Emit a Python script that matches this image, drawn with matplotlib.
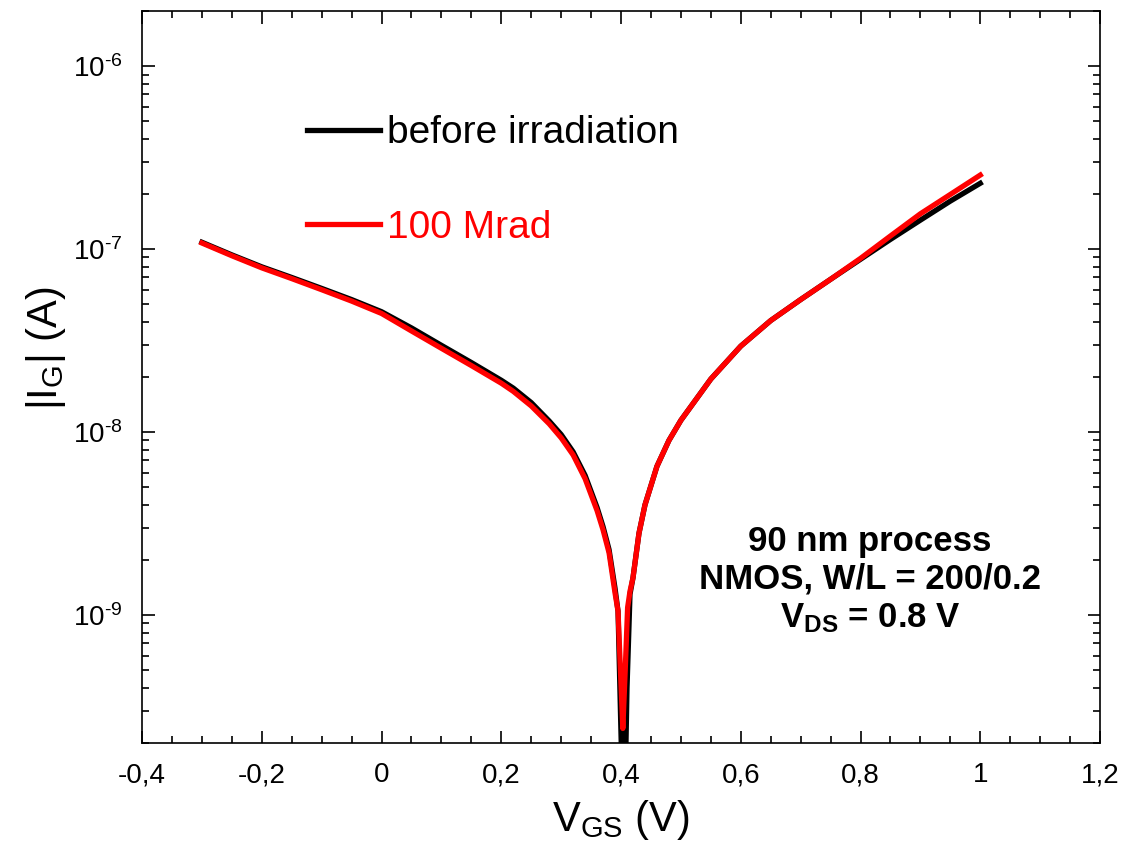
import math
import matplotlib
matplotlib.use("Agg")
import matplotlib.pyplot as plt
from matplotlib.ticker import FixedLocator, MultipleLocator, LogLocator, FuncFormatter, NullFormatter

plt.rcParams['font.family'] = ['Liberation Sans', 'DejaVu Sans']
plt.rcParams['mathtext.fontset'] = 'custom'
plt.rcParams['mathtext.rm'] = 'Liberation Sans'
plt.rcParams['mathtext.it'] = 'Liberation Sans'
plt.rcParams['mathtext.bf'] = 'Liberation Sans:bold'

# gate current |IG| vs VGS
v_before = [-0.3, -0.25, -0.2, -0.15, -0.1, -0.05, 0.0, 0.05, 0.1, 0.15, 0.2,
            0.22, 0.25, 0.28, 0.3, 0.32, 0.34, 0.36, 0.37, 0.38, 0.39, 0.395,
            0.399, 0.402, 0.404, 0.407, 0.41, 0.415, 0.42, 0.43, 0.44, 0.46,
            0.48, 0.5, 0.55, 0.6, 0.65, 0.7, 0.75, 0.8, 0.85, 0.9, 0.95, 1.0]
i_before = [1.09e-7, 9.3e-8, 8.0e-8, 7.0e-8, 6.1e-8, 5.3e-8, 4.55e-8, 3.71e-8,
            2.98e-8, 2.4e-8, 1.92e-8, 1.74e-8, 1.45e-8, 1.15e-8, 9.7e-9,
            7.8e-9, 5.8e-9, 3.87e-9, 3.04e-9, 2.28e-9, 1.4e-9, 1.05e-9, 3e-10,
            1.2e-10, 5e-11, 1.2e-10, 4e-10, 1.3e-9, 1.6e-9, 2.8e-9, 4.0e-9,
            6.5e-9, 9.0e-9, 1.16e-8, 1.95e-8, 2.95e-8, 4.07e-8, 5.3e-8, 6.84e-8,
            8.8e-8, 1.13e-7, 1.44e-7, 1.83e-7, 2.29e-7]

v_after = [-0.3, -0.25, -0.2, -0.15, -0.1, -0.05, 0.0, 0.05, 0.1, 0.15, 0.2,
           0.22, 0.25, 0.28, 0.3, 0.32, 0.34, 0.36, 0.37, 0.38, 0.39, 0.395,
           0.399, 0.403, 0.407, 0.411, 0.415, 0.42, 0.43, 0.44, 0.46, 0.48,
           0.5, 0.55, 0.6, 0.65, 0.7, 0.75, 0.8, 0.85, 0.9, 0.95, 1.0]
i_after = [1.08e-7, 9.2e-8, 7.9e-8, 6.9e-8, 6.0e-8, 5.2e-8, 4.45e-8, 3.57e-8,
           2.87e-8, 2.31e-8, 1.85e-8, 1.67e-8, 1.39e-8, 1.11e-8, 9.3e-9, 7.5e-9,
           5.56e-9, 3.72e-9, 2.92e-9, 2.19e-9, 1.32e-9, 1.05e-9, 5e-10, 2.4e-10,
           5e-10, 1.1e-9, 1.35e-9, 1.6e-9, 2.8e-9, 4.0e-9, 6.5e-9, 9.0e-9,
           1.16e-8, 1.95e-8, 2.95e-8, 4.07e-8, 5.3e-8, 6.84e-8, 8.9e-8, 1.18e-7,
           1.56e-7, 1.99e-7, 2.54e-7]

x_ticks = [-0.4, -0.2, 0.0, 0.2, 0.4, 0.6, 0.8, 1.0, 1.2]


def comma_fmt(x, pos):
    s = '%g' % round(x, 3)
    if s == '-0':
        s = '0'
    return s.replace('.', ',')


def pow_fmt(y, pos):
    e = int(round(math.log10(y)))
    return r'10$^{\text{%d}}$' % e


fig = plt.figure(figsize=(11.22, 8.52), dpi=100)
ax = fig.add_subplot(111)
fig.subplots_adjust(left=0.1266, right=0.9804, top=0.987, bottom=0.128)

ax.plot(v_before, i_before, color='black', lw=3.8, label='before irradiation')
ax.plot(v_after, i_after, color='#ff0000', lw=3.8, label='100 Mrad')

ax.set_yscale('log')
ax.set_xlim(-0.4, 1.2)
ax.set_ylim(2e-10, 2e-6)

ax.xaxis.set_major_locator(FixedLocator(x_ticks))
ax.xaxis.set_minor_locator(MultipleLocator(0.05))
ax.xaxis.set_major_formatter(FuncFormatter(comma_fmt))
ax.yaxis.set_major_locator(LogLocator(base=10, numticks=20))
ax.yaxis.set_major_formatter(FuncFormatter(pow_fmt))
ax.yaxis.set_minor_locator(LogLocator(base=10, subs=range(2, 10), numticks=20))
ax.yaxis.set_minor_formatter(NullFormatter())

ax.tick_params(which='both', direction='in', top=True, right=True, width=1.2)
ax.tick_params(which='major', length=9, labelsize=20, pad=14)
ax.tick_params(which='minor', length=5)
for sp in ax.spines.values():
    sp.set_linewidth(1.2)

ax.set_xlabel(r'V$_{\mathregular{GS}}$ (V)', fontsize=30, labelpad=7)
ax.set_ylabel(r'|I$_{\mathregular{G}}$| (A)', fontsize=30)
ax.yaxis.set_label_coords(-0.077, 0.54)

leg = ax.legend(loc='upper left', bbox_to_anchor=(0.156, 0.879), frameon=False,
                fontsize=28, handlelength=1.88, handletextpad=0.18,
                labelspacing=1.51, borderaxespad=0)
for txt, ln in zip(leg.get_texts(), leg.get_lines()):
    txt.set_color(ln.get_color())

ax.text(0.76, 0.223, '90 nm process\nNMOS, W/L = 200/0.2\n' + r'V$_{\mathbf{DS}}$ = 0.8 V',
        transform=ax.transAxes, ha='center', va='center', fontsize=25,
        fontweight='bold', linespacing=1.2)

fig.savefig('out.png', dpi=100)
